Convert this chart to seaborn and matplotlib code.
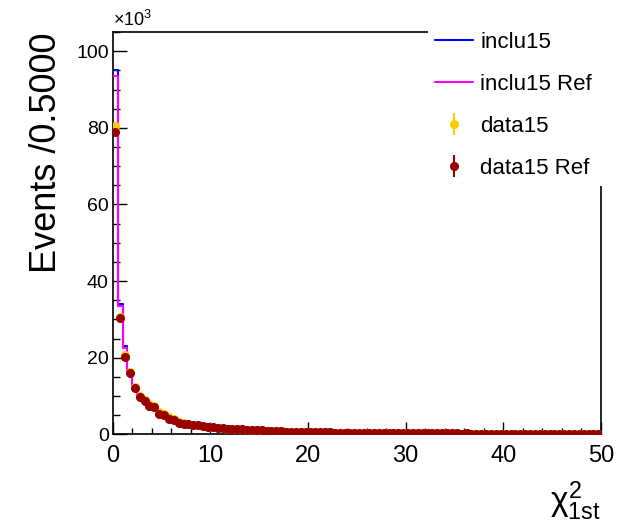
import numpy as np
import pandas as pd
import seaborn as sns
import matplotlib.pyplot as plt
from matplotlib.ticker import MultipleLocator

# Events per 0.5 bin of chi2_1st, in units of 10^3
bin_centers = np.arange(0.25, 50, 0.5)

head_inclu15 = [95.0, 34.0, 23.0, 16.8, 12.8, 10.2, 9.0, 7.8, 7.2, 5.8, 5.2, 4.4, 3.9, 3.3, 3.0]
head_inclu15_ref = [93.5, 33.6, 22.6, 16.5, 12.5, 10.0, 8.8, 7.6, 7.0, 5.6, 5.0, 4.3, 3.8, 3.2, 2.9]
head_data15 = [80.4, 30.6, 20.6, 16.3, 12.4, 9.9, 9.0, 7.8, 7.4, 5.7, 5.2, 4.4, 3.9, 3.2, 3.0]
head_data15_ref = [79.0, 30.3, 20.2, 16.0, 12.1, 9.6, 8.7, 7.5, 7.1, 5.4, 5.0, 4.1, 3.7, 3.0, 2.8]

tail_mc = [2.7, 2.5, 2.3, 2.15, 2.0, 1.85, 1.7, 1.6, 1.5, 1.4, 1.3, 1.22, 1.15, 1.08, 1.0,
           0.95, 0.9, 0.85, 0.8, 0.76, 0.72, 0.68, 0.65, 0.62, 0.59, 0.56, 0.53, 0.51, 0.49, 0.47,
           0.45, 0.43, 0.41, 0.40, 0.38, 0.37, 0.35, 0.34, 0.33, 0.32, 0.31, 0.30, 0.29, 0.28, 0.27,
           0.26, 0.26, 0.25, 0.24, 0.24, 0.23, 0.22, 0.22, 0.21, 0.21, 0.20, 0.20, 0.19, 0.19, 0.18,
           0.18, 0.18, 0.17, 0.17, 0.16, 0.16, 0.16, 0.15, 0.15, 0.15, 0.14, 0.14, 0.14, 0.13, 0.13,
           0.13, 0.13, 0.12, 0.12, 0.12, 0.12, 0.11, 0.11, 0.11, 0.11]
tail_data = [2.8, 2.5, 2.4, 2.1, 2.0, 1.9, 1.7, 1.65, 1.5, 1.45, 1.3, 1.25, 1.1, 1.1, 1.0,
             0.98, 0.9, 0.88, 0.8, 0.78, 0.7, 0.7, 0.64, 0.63, 0.58, 0.57, 0.52, 0.52, 0.48, 0.48,
             0.44, 0.44, 0.40, 0.41, 0.37, 0.38, 0.34, 0.35, 0.32, 0.33, 0.30, 0.31, 0.28, 0.29, 0.26,
             0.27, 0.25, 0.26, 0.23, 0.25, 0.22, 0.23, 0.21, 0.22, 0.20, 0.21, 0.19, 0.20, 0.18, 0.19,
             0.17, 0.19, 0.16, 0.18, 0.15, 0.17, 0.15, 0.16, 0.14, 0.16, 0.13, 0.15, 0.13, 0.14, 0.12,
             0.14, 0.12, 0.13, 0.11, 0.13, 0.11, 0.12, 0.11, 0.12, 0.10]

df = pd.DataFrame({
    'chi2': bin_centers,
    'inclu15': head_inclu15 + tail_mc,
    'inclu15_ref': head_inclu15_ref + tail_mc,
    'data15': head_data15 + tail_data,
    'data15_ref': head_data15_ref + tail_data,
})

sns.set_style('ticks')
plt.rcParams['font.family'] = ['Liberation Sans', 'DejaVu Sans']
plt.rcParams['mathtext.fontset'] = 'custom'
plt.rcParams['mathtext.rm'] = 'Liberation Sans'
plt.rcParams['mathtext.it'] = 'Liberation Sans'
plt.rcParams['text.color'] = 'black'
plt.rcParams['axes.labelcolor'] = 'black'
plt.rcParams['xtick.color'] = 'black'
plt.rcParams['ytick.color'] = 'black'

fig = plt.figure(figsize=(6.2, 5.27), dpi=100)
ax = fig.add_axes([0.182, 0.176, 0.787, 0.763])

# MC histograms as steps
sns.histplot(data=df, x='chi2', weights='inclu15', binwidth=0.5, binrange=(0, 50), element='step',
             fill=False, color='#0000ff', linewidth=1.5, ax=ax, zorder=2)
sns.histplot(data=df, x='chi2', weights='inclu15_ref', binwidth=0.5, binrange=(0, 50), element='step',
             fill=False, color='#ff00ff', linewidth=1.5, ax=ax, zorder=3)

# data points with poisson errors
eb1 = ax.errorbar(df['chi2'], df['data15'], yerr=np.sqrt(df['data15'] * 1000) / 1000, fmt='o', ms=5.5,
                  color='#ffcc00', ecolor='#ffcc00', elinewidth=1.5, zorder=4)
eb2 = ax.errorbar(df['chi2'], df['data15_ref'], yerr=np.sqrt(df['data15_ref'] * 1000) / 1000, fmt='o',
                  ms=5.5, color='#990000', ecolor='#990000', elinewidth=1.5, zorder=5)

ax.set_xlim(0, 50)
ax.set_ylim(0, 105)
ax.xaxis.set_major_locator(MultipleLocator(10))
ax.xaxis.set_minor_locator(MultipleLocator(2))
ax.yaxis.set_major_locator(MultipleLocator(20))
ax.yaxis.set_minor_locator(MultipleLocator(5))
ax.tick_params(which='both', direction='in', top=False, right=False, color='black', labelcolor='black')
ax.tick_params(axis='y', which='major', length=10, width=1, labelsize=14, pad=3)
ax.tick_params(axis='y', which='minor', length=5, width=1)
ax.tick_params(axis='x', which='major', length=9, width=1, labelsize=17, pad=8)
ax.tick_params(axis='x', which='minor', length=4, width=1)
for sp in ax.spines.values():
    sp.set_color('black')
    sp.set_linewidth(1.2)

ax.set_ylabel('Events /0.5000', fontsize=26, loc='top', color='black')
ax.yaxis.set_label_coords(-0.10, 1.0)
ax.set_xlabel(r'$\chi^{2}_{\mathrm{1st}}$', fontsize=24, loc='right', labelpad=9, color='black')
ax.text(0, 1.005, r'$\times10^{3}$', transform=ax.transAxes, ha='left', va='bottom', fontsize=13,
        color='black')

handles = [plt.Line2D([], [], color='#0000ff', lw=1.5),
           plt.Line2D([], [], color='#ff00ff', lw=1.5),
           eb1, eb2]
labels = ['inclu15', 'inclu15 Ref', 'data15', 'data15 Ref']
fig.legend(handles, labels, loc='upper left', mode='expand',
           bbox_to_anchor=(417 / 620, 1 - 185 / 527, 203 / 620, 171 / 527),
           fontsize=16, frameon=True, facecolor='white', edgecolor='none', framealpha=1,
           fancybox=False, labelspacing=0.95, handlelength=1.7, handletextpad=0.35,
           borderpad=0.3, labelcolor='black')

fig.savefig('out.png', dpi=100)
